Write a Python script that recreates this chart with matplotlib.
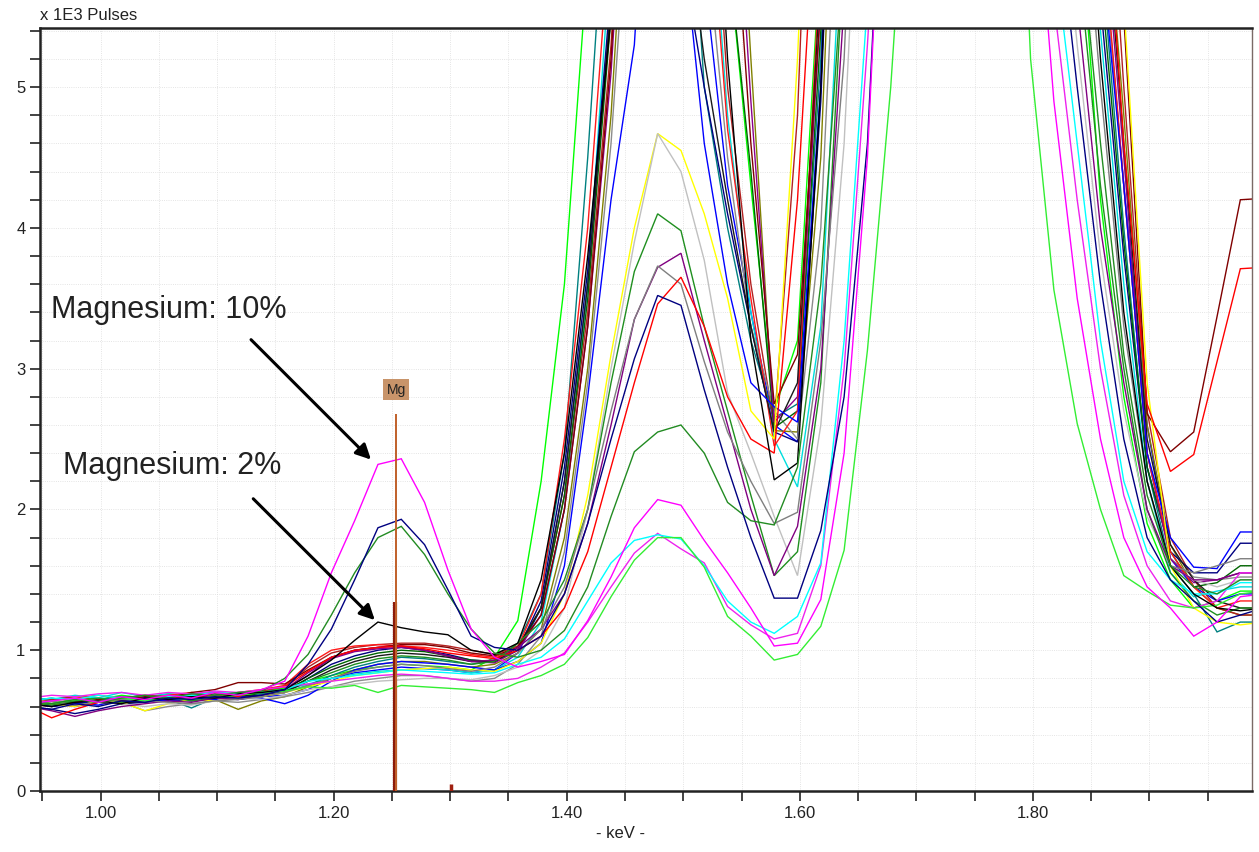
import numpy as np
import matplotlib
matplotlib.use('Agg')
import matplotlib.pyplot as plt
from matplotlib.ticker import MultipleLocator, FormatStrFormatter

plt.rcParams['font.family'] = ['Liberation Sans', 'DejaVu Sans']

# channel energies (keV), 20 eV per channel
energy = np.round(0.938 + 0.02 * np.arange(54), 3)

# spectra in 1E3 pulses, one list per measured point
# each list: baseline k0-11 | Mg k12-21 | Al k22-31 | dip/Si k32-43 | tail k44-53
mg10 = [0.62,0.64,0.66,0.63,0.67,0.65,0.68,0.66,0.70,0.68,0.72,0.78,
        1.10,1.55,1.92,2.32,2.36,2.05,1.57,1.15,0.95,0.88,
        0.92,0.97,1.21,1.52,1.87,2.07,2.03,1.78,1.55,1.30,
        1.03,1.05,1.36,2.40,4.50,8.0,12,15,17,17,14,7.0,
        4.9,3.5,2.5,1.8,1.45,1.30,1.10,1.20,1.38,1.40]
navy_mg = [0.60,0.58,0.62,0.60,0.64,0.63,0.66,0.65,0.67,0.66,0.68,0.72,
           0.90,1.15,1.50,1.87,1.93,1.75,1.43,1.10,1.02,1.00,
           1.10,1.40,1.90,2.50,3.07,3.52,3.45,2.85,2.30,1.80,
           1.37,1.37,1.85,2.80,4.60,8.0,11,14,17,17,14,10,
           6.5,5.0,3.6,2.5,1.80,1.50,1.35,1.20,1.25,1.30]
green_mg = [0.64,0.62,0.65,0.63,0.66,0.68,0.66,0.69,0.68,0.70,0.71,0.80,
            0.97,1.25,1.55,1.80,1.88,1.68,1.40,1.15,0.98,0.95,
            1.00,1.14,1.45,1.95,2.41,2.55,2.60,2.40,2.05,1.92,
            1.89,2.30,3.60,6.0,9,13,16,19,20,19,16,12,
            9.5,6.3,4.6,3.1,2.1,1.6,1.45,1.40,1.50,1.50]
black_mg = [0.62,0.60,0.63,0.64,0.62,0.66,0.65,0.67,0.66,0.69,0.70,0.72,
            0.82,0.93,1.07,1.20,1.16,1.13,1.11,1.00,0.97,1.05,
            1.50,2.40,3.80,5.50,8.0,11,11,8.0,5.2,3.2,
            2.21,2.33,5.0,9,14,18,21,23,24,23,20,15,
            10,7.5,5.2,3.4,2.2,1.6,1.40,1.30,1.28,1.30]
yellow = [0.60,0.62,0.60,0.64,0.63,0.57,0.62,0.65,0.64,0.66,0.67,0.70,
          0.74,0.78,0.82,0.84,0.86,0.87,0.88,0.86,0.85,0.92,
          1.05,1.40,2.10,3.10,4.00,4.67,4.55,4.10,3.50,2.70,
          2.50,5.20,9.0,13,17,20,23,25,26,25,22,18,
          12,9.0,7.0,5.6,2.9,1.6,1.3,1.2,1.18,1.20]
silver = [0.65,0.63,0.66,0.64,0.62,0.60,0.62,0.61,0.64,0.66,0.65,0.68,
          0.72,0.74,0.76,0.78,0.79,0.80,0.80,0.79,0.82,0.88,
          1.00,1.30,2.00,3.00,3.90,4.67,4.40,3.77,2.83,2.40,
          1.95,1.53,2.60,4.6,8.0,12,16,19,21,20,16,11,
          7.0,5.3,3.8,2.7,1.95,1.6,1.5,1.45,1.50,1.50]
green = [0.63,0.61,0.64,0.66,0.63,0.65,0.67,0.64,0.66,0.68,0.70,0.72,
         0.78,0.84,0.90,0.94,0.96,0.95,0.93,0.90,0.92,1.05,
         1.20,1.50,2.00,2.90,3.69,4.10,3.98,3.30,2.70,2.10,
         1.53,1.70,2.90,6.0,9,13,16,19,21,21,18,13,
         9.0,6.0,4.3,3.0,2.0,1.55,1.35,1.25,1.30,1.30]
purple = [0.60,0.57,0.53,0.57,0.60,0.62,0.64,0.63,0.66,0.65,0.68,0.72,
          0.82,0.95,1.00,1.02,1.03,1.00,0.96,0.92,0.93,1.02,
          1.15,1.40,1.90,2.60,3.35,3.72,3.82,3.20,2.60,2.00,
          1.53,1.88,3.00,5.6,9,13,17,20,22,21,18,12,
          8.0,5.6,4.0,2.9,2.0,1.6,1.5,1.5,1.55,1.55]
gray = [0.62,0.64,0.61,0.63,0.65,0.64,0.63,0.62,0.64,0.65,0.67,0.70,
        0.75,0.80,0.85,0.88,0.90,0.89,0.87,0.85,0.88,0.98,
        1.15,1.45,2.00,2.70,3.35,3.73,3.60,3.05,2.55,2.20,
        1.90,1.98,3.20,5.2,9,13,17,20,22,21,18,13,
        10,7.0,5.0,3.3,2.2,1.6,1.55,1.6,1.65,1.65]
red = [0.60,0.52,0.58,0.63,0.66,0.64,0.67,0.65,0.70,0.67,0.72,0.74,
       0.85,0.95,1.00,1.02,1.03,1.01,0.98,0.96,0.94,1.00,
       1.10,1.30,1.70,2.30,2.90,3.46,3.65,3.30,2.80,2.50,
       2.40,4.20,7.0,11,15,19,22,24,25,24,21,16,
       12,9.0,7.0,4.6,2.75,2.27,2.39,3.05,3.71,3.72]
magenta2 = [0.66,0.68,0.67,0.69,0.70,0.68,0.70,0.69,0.71,0.70,0.72,0.74,
            0.76,0.78,0.80,0.82,0.83,0.82,0.80,0.78,0.78,0.80,
            0.88,0.98,1.20,1.45,1.69,1.83,1.72,1.62,1.31,1.18,
            1.08,1.12,1.60,3.0,5.3,8,12,15,17,16,13,8.0,
            5.6,4.2,3.0,2.1,1.6,1.35,1.30,1.35,1.55,1.55]
cyan = [0.64,0.66,0.65,0.68,0.66,0.64,0.67,0.68,0.70,0.69,0.70,0.72,
        0.78,0.80,0.82,0.84,0.86,0.85,0.84,0.83,0.84,0.90,
        0.95,1.08,1.35,1.62,1.78,1.82,1.79,1.60,1.35,1.20,
        1.12,1.24,1.62,3.2,5.6,9,14,18,20,19,16,10,
        6.0,4.6,3.2,2.2,1.7,1.5,1.4,1.40,1.48,1.48]
lime = [0.64,0.62,0.65,0.63,0.66,0.64,0.66,0.65,0.67,0.68,0.70,0.71,
        0.74,0.73,0.75,0.70,0.75,0.74,0.73,0.72,0.70,0.77,
        0.82,0.90,1.09,1.38,1.64,1.80,1.80,1.59,1.24,1.10,
        0.93,0.97,1.17,1.71,3.13,5.0,7.5,10,12,12,9.0,5.2,
        3.56,2.61,2.0,1.53,1.42,1.32,1.30,1.32,1.40,1.42]
lime2 = [0.66,0.64,0.67,0.65,0.68,0.66,0.69,0.67,0.70,0.69,0.71,0.73,
         0.78,0.82,0.86,0.88,0.90,0.89,0.88,0.86,0.95,1.21,
         2.20,3.60,5.90,9.0,12,14,13,9.0,6.0,4.3,
         2.70,3.20,6.0,10,15,19,22,24,25,24,21,16,
         10,6.5,4.2,2.8,1.9,1.5,1.3,1.35,1.42,1.42]
blue = [0.63,0.60,0.62,0.64,0.63,0.66,0.64,0.66,0.65,0.67,0.66,0.62,
        0.68,0.78,0.86,0.90,0.92,0.91,0.90,0.88,0.86,0.92,
        1.05,1.60,2.80,4.20,5.30,8.0,6.2,4.6,3.6,2.9,
        2.73,2.62,5.0,10,15,19,22,24,25,24,21,16,
        12,9.0,6.0,4.3,2.4,1.8,1.59,1.58,1.84,1.84]
blue2 = [0.62,0.64,0.63,0.61,0.65,0.64,0.66,0.68,0.66,0.65,0.67,0.68,
         0.72,0.80,0.84,0.86,0.88,0.87,0.86,0.84,0.86,0.98,
         1.30,2.20,3.60,5.60,8.5,11,10,5.8,4.3,3.4,
         2.60,2.48,5.0,9,14,18,21,23,24,23,20,15,
         12,8.5,6.2,4.3,2.6,1.65,1.45,1.35,1.40,1.40]
cyan2 = [0.66,0.65,0.68,0.66,0.70,0.67,0.69,0.68,0.65,0.70,0.69,0.72,
         0.76,0.80,0.83,0.85,0.86,0.87,0.86,0.84,0.86,0.95,
         1.20,2.00,3.60,6.00,9.0,12,11,7.0,4.8,3.4,
         2.50,2.16,3.3,6.5,11,16,20,22,23,22,19,14,
         11,7.5,5.4,3.6,2.2,1.55,1.38,1.42,1.45,1.45]
maroon = [0.62,0.60,0.63,0.65,0.64,0.67,0.66,0.70,0.72,0.77,0.77,0.76,
          0.86,0.95,1.00,1.02,1.04,1.04,1.02,0.98,0.96,1.02,
          1.25,2.00,3.30,5.20,8.0,11,12,10,7.0,4.6,
          2.75,3.10,5.6,10,15,19,22,24,25,24,21,16,
          14,10,8.0,5.5,2.68,2.41,2.55,3.37,4.20,4.21]
olive = [0.60,0.62,0.64,0.63,0.62,0.65,0.64,0.66,0.65,0.58,0.64,0.67,
         0.74,0.80,0.86,0.90,0.92,0.92,0.90,0.88,0.90,0.98,
         1.15,1.80,3.00,4.80,7.5,10,12,10.5,8.0,5.2,
         2.56,2.55,4.5,8.5,13,17,20,22,23,22,19,14,
         13,9.5,6.8,4.8,2.6,1.75,1.45,1.3,1.25,1.25]
teal = [0.64,0.66,0.63,0.65,0.67,0.66,0.65,0.59,0.66,0.68,0.69,0.70,
        0.75,0.82,0.88,0.92,0.95,0.94,0.92,0.90,0.93,1.05,
        1.40,2.40,4.50,7.00,10,12,7.5,5.0,4.0,3.2,
        2.65,2.75,5.2,9.5,14,18,21,23,24,23,20,15,
        12,8.5,6.0,4.0,2.3,1.6,1.4,1.13,1.2,1.2]
darkred = [0.63,0.65,0.67,0.64,0.66,0.68,0.67,0.69,0.70,0.68,0.71,0.74,
           0.88,0.98,1.02,1.04,1.05,1.05,1.03,1.00,0.97,1.03,
           1.30,2.10,3.40,5.30,8.0,11,11,7.5,5.0,3.6,
           2.60,4.80,9.0,13,17,20,23,25,26,25,22,17,
           14,10,7.5,5.0,2.7,1.8,1.5,1.3,1.25,1.25]
navy2 = [0.60,0.58,0.55,0.58,0.62,0.63,0.65,0.64,0.66,0.67,0.68,0.70,
         0.80,0.90,0.96,1.00,1.02,1.00,0.97,0.93,0.92,1.00,
         1.35,2.30,3.70,5.70,8.5,11,6.0,5.0,4.1,3.3,
         2.55,2.48,4.9,9,14,18,21,23,24,23,20,15,
         12,8.0,5.6,3.8,2.3,1.7,1.55,1.55,1.76,1.76]
gray2 = [0.62,0.60,0.62,0.64,0.63,0.57,0.60,0.62,0.64,0.63,0.65,0.67,
         0.70,0.74,0.78,0.80,0.82,0.82,0.80,0.78,0.80,0.90,
         1.10,1.70,2.90,4.60,7.0,10,10,6.2,4.5,3.3,
         2.70,2.50,4.0,7.5,12,16,19,21,22,21,18,13,
         12,8.5,6.2,4.3,2.4,1.65,1.52,1.5,1.52,1.52]
darkgreen2 = [0.61,0.63,0.62,0.65,0.64,0.66,0.65,0.67,0.69,0.66,0.70,0.71,
              0.80,0.88,0.94,0.98,1.00,0.99,0.96,0.93,0.92,1.00,
              1.30,2.10,3.50,5.50,8.2,11,12,9.0,6.0,4.4,
              2.58,2.70,5.4,10,15,19,22,24,25,24,21,16,
              12.5,8.5,5.8,3.9,2.3,1.7,1.45,1.48,1.6,1.6]
darkmagenta = [0.64,0.62,0.60,0.63,0.65,0.64,0.67,0.66,0.68,0.69,0.70,0.72,
               0.84,0.94,0.99,1.01,1.02,1.00,0.96,0.92,0.91,1.00,
               1.25,2.00,3.30,5.10,7.8,10.5,12,10,7.5,4.9,
               2.62,2.80,5.6,10,15,19,22,24,25,24,21,16,
               13,9.0,6.5,4.5,2.4,1.65,1.48,1.5,1.55,1.55]
red2 = [0.65,0.63,0.66,0.68,0.66,0.65,0.68,0.70,0.67,0.70,0.72,0.75,
        0.90,1.00,1.03,1.04,1.03,1.02,1.00,0.97,0.95,1.02,
        1.40,2.50,4.00,6.20,9.0,12,11,6.8,4.7,3.5,
        2.45,2.70,6.0,10,15,19,22,24,25,24,21,16,
        12,9.0,6.3,4.3,2.4,1.7,1.45,1.3,1.35,1.35]
black2 = [0.60,0.62,0.61,0.63,0.62,0.64,0.66,0.65,0.67,0.68,0.67,0.70,
          0.78,0.86,0.92,0.96,0.98,0.97,0.95,0.92,0.92,1.02,
          1.30,2.20,3.60,5.60,8.5,11,6.5,5.2,4.2,3.3,
          2.55,2.90,5.8,10,15,19,22,24,25,24,21,16,
          13,9.5,6.7,4.6,2.5,1.75,1.5,1.35,1.3,1.3]

spectra = [
    (lime2, '#00ff00'), (blue2, '#0000ff'), (cyan2, '#00dede'), (olive, '#808000'),
    (teal, '#008080'), (darkred, '#b22222'), (navy2, '#000080'), (gray2, '#8c8c8c'),
    (darkgreen2, '#006400'), (darkmagenta, '#8b008b'), (red2, '#ff1a1a'),
    (black2, '#1a1a1a'), (maroon, '#800000'), (blue, '#0000ff'),
    (yellow, '#ffff00'), (silver, '#c0c0c0'), (green, '#1f8f1f'), (purple, '#800080'),
    (gray, '#7f7f7f'), (red, '#ff0000'), (magenta2, '#ee22ee'), (cyan, '#00ffff'),
    (lime, '#33ee33'), (black_mg, '#000000'), (green_mg, '#228b22'),
    (navy_mg, '#000080'), (mg10, '#ff00ff'),
]

# Mg marker
mg_energy = 1.2536
mg_bar = 1.34
mg_line_top = 2.68
side_tick = 1.301
side_tick_h = 0.05

fig = plt.figure(figsize=(12.59, 8.52), dpi=100)
ax = fig.add_axes([40/1259, 61/852, 1212/1259, 763/852])

for vals, col in spectra:
    ax.plot(energy, vals, color=col, lw=1.0, solid_joinstyle='miter')

ax.vlines(mg_energy - 0.0008, 0, mg_bar, color='#8b1a0a', lw=3, zorder=5)
ax.vlines(mg_energy, 0, mg_line_top, color='#c0602a', lw=1.4, zorder=6)
ax.vlines(side_tick, 0, side_tick_h, color='#a02010', lw=2.5, zorder=5)
ax.text(mg_energy, 2.85, 'Mg', ha='center', va='center', fontsize=10, color='#222222',
        bbox=dict(boxstyle='square,pad=0.25', fc='#c8946a', ec='none'), zorder=7)

arrow = dict(arrowstyle='-|>,head_length=0.9,head_width=0.45', color='black', lw=2.2)
ax.annotate('', xy=(1.2337, 2.34), xytext=(1.1274, 3.22), arrowprops=arrow, zorder=8)
ax.annotate('', xy=(1.2370, 1.20), xytext=(1.1293, 2.09), arrowprops=arrow, zorder=8)
ax.text(0.9578, 3.42, 'Magnesium: 10%', fontsize=22, va='center', ha='left', color='#222222')
ax.text(0.9680, 2.31, 'Magnesium: 2%', fontsize=22, va='center', ha='left', color='#222222')

ax.set_xlim(0.948, 1.988)
ax.set_ylim(0, 5.42)
ax.xaxis.set_major_locator(MultipleLocator(0.2))
ax.xaxis.set_minor_locator(MultipleLocator(0.05))
ax.xaxis.set_major_formatter(FormatStrFormatter('%.2f'))
ax.yaxis.set_major_locator(MultipleLocator(1))
ax.yaxis.set_minor_locator(MultipleLocator(0.2))
ax.tick_params(which='both', direction='out', length=7, width=1.2, labelsize=12, colors='#222222')
ax.grid(which='both', ls=':', lw=0.6, color='#dcdcdc')
ax.set_axisbelow(True)

for s in ['left', 'bottom', 'top']:
    ax.spines[s].set_linewidth(1.8)
    ax.spines[s].set_color('#222222')
ax.spines['right'].set_linewidth(1.0)
ax.spines['right'].set_color('#7a6a66')

fig.text(40/1259, 1 - 15/852, 'x 1E3 Pulses', fontsize=12, va='center', ha='left', color='#222222')
fig.text(620/1259, 1 - 833/852, '- keV -', fontsize=12, va='center', ha='center', color='#222222')

fig.savefig('out.png', dpi=100)
